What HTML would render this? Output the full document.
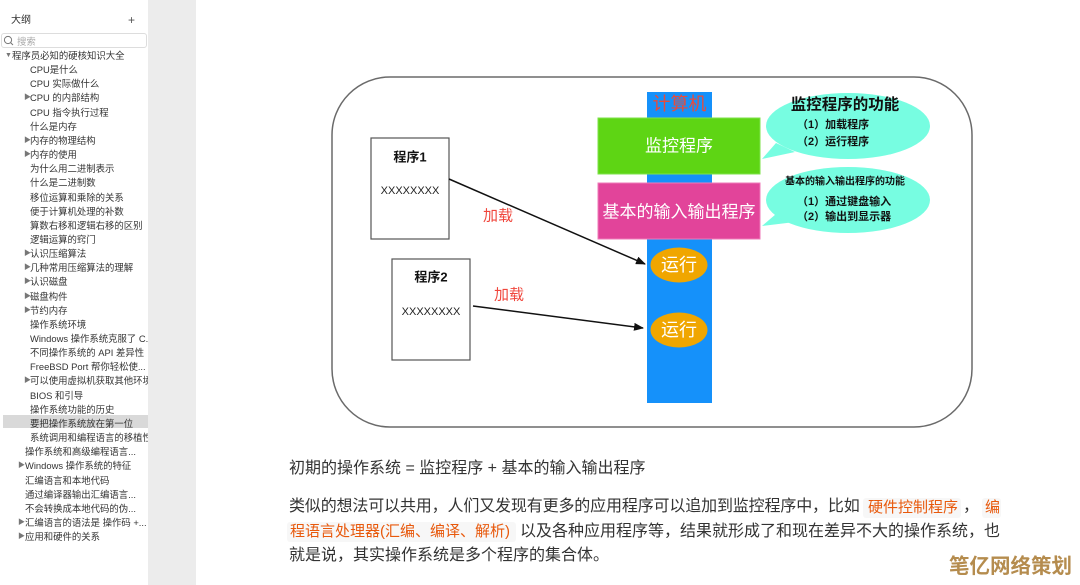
<!DOCTYPE html>
<html><head><meta charset="utf-8"><style>
*{margin:0;padding:0;box-sizing:border-box}
body{width:1080px;height:585px;overflow:hidden;background:#fff;position:relative;font-family:"Liberation Sans","Noto Sans CJK SC",sans-serif}
#side{position:absolute;left:0;top:0;width:148px;height:585px;background:#fff;overflow:hidden}
#strip{position:absolute;left:148px;top:0;width:48px;height:585px;background:#ececec}
.it{position:absolute;font-size:9.4px;color:#333;white-space:nowrap;line-height:14px;height:14px}
.tri{position:absolute;font-size:7px;color:#777;line-height:14px;height:14px}
.ln{position:absolute;left:289px;font-size:16px;color:#333;white-space:nowrap;line-height:24px;font-family:"Liberation Sans","Noto Sans CJK SC",sans-serif}
.code{position:absolute;background:#f7f7f7;border-radius:3px;color:#e8590c;font-size:15px;line-height:20px;white-space:nowrap;font-family:"Liberation Sans","Noto Sans CJK SC",sans-serif}
</style></head><body>
<div id="side">
<div class="it" style="left:11px;top:14px;font-size:10px">大纲</div>
<div class="it" style="left:128px;top:13px;font-size:12px;color:#555">+</div>
<div style="position:absolute;left:1px;top:33px;width:146px;height:15px;border:1px solid #ddd;border-radius:3px;background:#fff"></div>
<svg style="position:absolute;left:3px;top:35px" width="12" height="12"><circle cx="5" cy="5" r="3.6" fill="none" stroke="#777" stroke-width="1"/><line x1="7.6" y1="7.6" x2="10" y2="10" stroke="#777" stroke-width="1"/></svg>
<div class="it" style="left:17px;top:35px;color:#aaa">搜索</div>
<div style="position:absolute;left:3px;top:415px;width:145px;height:13px;background:#d9d9d9"></div>
<div id="items"></div>
</div>
<div id="strip"></div>

<svg style="position:absolute;left:0;top:0" width="1080" height="585">
<defs>
<marker id="ah" markerWidth="10" markerHeight="8" refX="9" refY="4" orient="auto" markerUnits="userSpaceOnUse">
<path d="M0,0 L10,4 L0,8 Z" fill="#111"/></marker>
</defs>
<rect x="332" y="77" width="640" height="350" rx="58" ry="58" fill="#fff" stroke="#6a6a6a" stroke-width="1.5"/>
<rect x="647" y="92" width="65" height="311" fill="#1591fa"/>
<text x="679.5" y="104" text-anchor="middle" dominant-baseline="central" font-size="18" fill="#e84b3c" font-family="Liberation Sans, Noto Sans CJK SC, sans-serif">计算机</text>
<rect x="598" y="118" width="162" height="56" fill="#5ed514" stroke="#7de24a" stroke-width="1"/>
<text x="679" y="146" text-anchor="middle" dominant-baseline="central" font-size="17" fill="#fff" font-family="Liberation Sans, Noto Sans CJK SC, sans-serif">监控程序</text>
<rect x="598" y="183" width="162" height="56" fill="#e2449a" stroke="#ef7ab8" stroke-width="1"/>
<text x="679" y="212" text-anchor="middle" dominant-baseline="central" font-size="17" fill="#fff" font-family="Liberation Sans, Noto Sans CJK SC, sans-serif">基本的输入输出程序</text>
<ellipse cx="679" cy="265" rx="28.5" ry="17.5" fill="#f0a600"/>
<text x="679" y="265" text-anchor="middle" dominant-baseline="central" font-size="18" fill="#fff" font-family="Liberation Sans, Noto Sans CJK SC, sans-serif">运行</text>
<ellipse cx="679" cy="330" rx="28.5" ry="17.5" fill="#f0a600"/>
<text x="679" y="330" text-anchor="middle" dominant-baseline="central" font-size="18" fill="#fff" font-family="Liberation Sans, Noto Sans CJK SC, sans-serif">运行</text>

<rect x="371" y="138" width="78" height="101" fill="#fff" stroke="#555" stroke-width="1.2"/>
<text x="410" y="157" text-anchor="middle" dominant-baseline="central" font-size="13" font-weight="bold" fill="#111" font-family="Liberation Sans, Noto Sans CJK SC, sans-serif">程序1</text>
<text x="410" y="191" text-anchor="middle" dominant-baseline="central" font-size="11" fill="#222" font-family="Liberation Sans, sans-serif">XXXXXXXX</text>
<rect x="392" y="259" width="78" height="101" fill="#fff" stroke="#555" stroke-width="1.2"/>
<text x="431" y="277" text-anchor="middle" dominant-baseline="central" font-size="13" font-weight="bold" fill="#111" font-family="Liberation Sans, Noto Sans CJK SC, sans-serif">程序2</text>
<text x="431" y="312" text-anchor="middle" dominant-baseline="central" font-size="11" fill="#222" font-family="Liberation Sans, sans-serif">XXXXXXXX</text>

<line x1="449" y1="179" x2="645" y2="264" stroke="#111" stroke-width="1.5" marker-end="url(#ah)"/>
<line x1="473" y1="306" x2="643" y2="328" stroke="#111" stroke-width="1.5" marker-end="url(#ah)"/>
<text x="498" y="216" text-anchor="middle" dominant-baseline="central" font-size="15" fill="#f0463c" font-family="Liberation Sans, Noto Sans CJK SC, sans-serif">加载</text>
<text x="509" y="295" text-anchor="middle" dominant-baseline="central" font-size="15" fill="#f0463c" font-family="Liberation Sans, Noto Sans CJK SC, sans-serif">加载</text>

<path d="M776,143 L762,159 L795,152 Z" fill="#77fde1"/>
<ellipse cx="848" cy="126" rx="82" ry="33" fill="#77fde1"/>
<text x="845" y="105" text-anchor="middle" dominant-baseline="central" font-size="15.5" font-weight="bold" fill="#111" font-family="Liberation Sans, Noto Sans CJK SC, sans-serif">监控程序的功能</text>
<text x="797" y="125" dominant-baseline="central" font-size="11" font-weight="bold" fill="#111" font-family="Liberation Sans, Noto Sans CJK SC, sans-serif">（1）加载程序</text>
<text x="797" y="142" dominant-baseline="central" font-size="11" font-weight="bold" fill="#111" font-family="Liberation Sans, Noto Sans CJK SC, sans-serif">（2）运行程序</text>

<path d="M776,214 L762,226 L795,222 Z" fill="#77fde1"/>
<ellipse cx="848" cy="200" rx="82" ry="33" fill="#77fde1"/>
<text x="845" y="182" text-anchor="middle" dominant-baseline="central" font-size="10" font-weight="bold" fill="#111" font-family="Liberation Sans, Noto Sans CJK SC, sans-serif">基本的输入输出程序的功能</text>
<text x="797" y="202" dominant-baseline="central" font-size="11" font-weight="bold" fill="#111" font-family="Liberation Sans, Noto Sans CJK SC, sans-serif">（1）通过键盘输入</text>
<text x="797" y="217" dominant-baseline="central" font-size="11" font-weight="bold" fill="#111" font-family="Liberation Sans, Noto Sans CJK SC, sans-serif">（2）输出到显示器</text>
</svg>

<div class="ln" style="top:457px">初期的操作系统 = 监控程序 + 基本的输入输出程序</div>
<div class="ln" style="top:495px;letter-spacing:-0.15px">类似的想法可以共用，人们又发现有更多的应用程序可以追加到监控程序中，比如</div>
<div class="code" style="left:863px;top:498px;width:98px;height:20px;padding-left:5px">硬件控制程序</div>
<div class="ln" style="left:963px;top:495px">，</div>
<div class="code" style="left:982px;top:498px;width:19px;height:20px;padding-left:3px">编</div>
<div class="code" style="left:287px;top:522px;width:229px;height:20px;padding-left:3px">程语言处理器(汇编、编译、解析)</div>
<div class="ln" style="left:520px;top:520px">以及各种应用程序等，结果就形成了和现在差异不大的操作系统，也</div>
<div class="ln" style="top:544px">就是说，其实操作系统是多个程序的集合体。</div>

<div style="position:absolute;left:949px;top:554px;font-size:20.5px;font-weight:bold;color:#b58c4e;white-space:nowrap;line-height:26px;font-family:'Liberation Sans','Noto Sans CJK SC',sans-serif">笔亿网络策划</div>

<script>
var items=[
[0,5,12,"▼","程序员必知的硬核知识大全"],
[1,0,30,"","CPU是什么"],
[2,0,30,"","CPU 实际做什么"],
[3,24,30,"▶","CPU 的内部结构"],
[4,0,30,"","CPU 指令执行过程"],
[5,0,30,"","什么是内存"],
[6,24,30,"▶","内存的物理结构"],
[7,24,30,"▶","内存的使用"],
[8,0,30,"","为什么用二进制表示"],
[9,0,30,"","什么是二进制数"],
[10,0,30,"","移位运算和乘除的关系"],
[11,0,30,"","便于计算机处理的补数"],
[12,0,30,"","算数右移和逻辑右移的区别"],
[13,0,30,"","逻辑运算的窍门"],
[14,24,30,"▶","认识压缩算法"],
[15,24,30,"▶","几种常用压缩算法的理解"],
[16,24,30,"▶","认识磁盘"],
[17,24,30,"▶","磁盘构件"],
[18,24,30,"▶","节约内存"],
[19,0,30,"","操作系统环境"],
[20,0,30,"","Windows 操作系统克服了 C.."],
[21,0,30,"","不同操作系统的 API 差异性"],
[22,0,30,"","FreeBSD Port 帮你轻松使..."],
[23,24,30,"▶","可以使用虚拟机获取其他环境"],
[24,0,30,"","BIOS 和引导"],
[25,0,30,"","操作系统功能的历史"],
[26,0,30,"","要把操作系统放在第一位"],
[27,0,30,"","系统调用和编程语言的移植性"],
[28,0,25,"","操作系统和高级编程语言..."],
[29,18,25,"▶","Windows 操作系统的特征"],
[30,0,25,"","汇编语言和本地代码"],
[31,0,25,"","通过编译器输出汇编语言..."],
[32,0,25,"","不会转换成本地代码的伪..."],
[33,18,25,"▶","汇编语言的语法是 操作码 +..."],
[34,18,25,"▶","应用和硬件的关系"]
];
var h="";
items.forEach(function(a){
 var y=Math.round(55+a[0]*14.15-6);
 if(a[3]) h+='<div class="tri" style="left:'+a[1]+'px;top:'+y+'px">'+a[3]+'</div>';
 h+='<div class="it" style="left:'+a[2]+'px;top:'+y+'px">'+a[4]+'</div>';
});
document.getElementById("items").innerHTML=h;
</script>
</body></html>
